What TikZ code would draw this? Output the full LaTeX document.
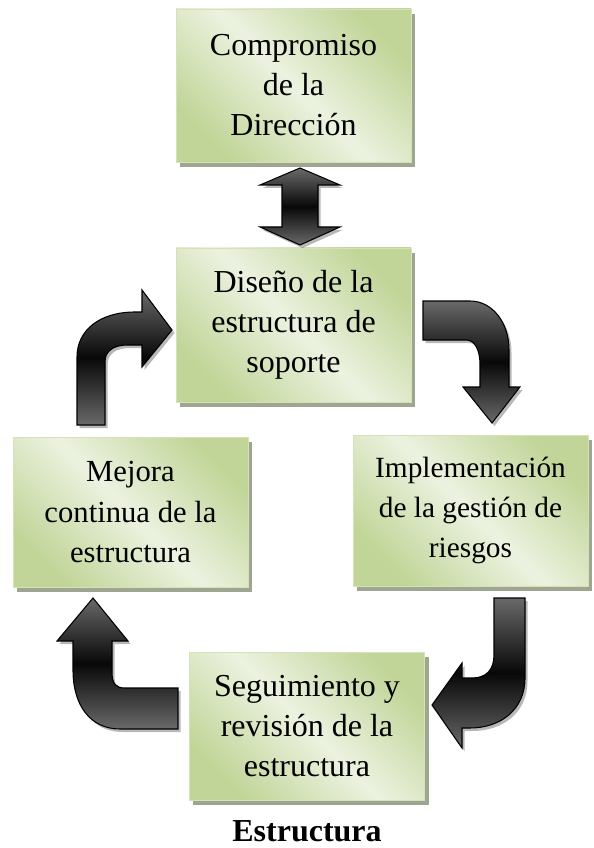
\documentclass[tikz,border=0pt]{standalone}
\usepackage{fontspec}
\setmainfont{Liberation Serif}
\usetikzlibrary{backgrounds}
\definecolor{gdark}{RGB}{193,213,152}
\definecolor{glight}{RGB}{236,242,224}
\definecolor{gedge}{RGB}{212,226,184}
\definecolor{gshadow}{RGB}{158,165,144}
\definecolor{agray}{RGB}{105,105,105}
\definecolor{ablack}{RGB}{8,8,8}
\newcommand\arrowA{(423,301) -- (470,301) .. controls (492,301) and (509,322) .. (509,350) -- (509,387) -- (520,387) -- (492,423) -- (463,387) -- (480,387) -- (480,365) .. controls (480,350) and (475,340) .. (466,340) -- (423,340) -- cycle}
\newcommand\arrowB{(494,598) -- (525,598) -- (525,678) .. controls (525,710) and (500,728) .. (470,728) -- (462,728) -- (462,748) -- (432,705) -- (462,663) -- (462,678) -- (472,678) .. controls (486,678) and (494,670) .. (494,655) -- cycle}
\newcommand\arrowC{(178,688) -- (178,729) -- (120,729) .. controls (90,729) and (73,705) .. (73,670) -- (73,641) -- (57,641) -- (93,598) -- (128,641) -- (112,641) -- (112,672) .. controls (112,684) and (116,688) .. (125,688) -- cycle}
\newcommand\arrowD{(77,425) -- (77,357) .. controls (77,330) and (100,312) .. (135,312) -- (142,312) -- (142,290) -- (172,330) -- (142,367) -- (142,345) -- (128,345) .. controls (112,345) and (105,352) .. (105,362) -- (105,425) -- cycle}
\newcommand\arrowE{(300,168) -- (340,185) -- (318,185) -- (318,227) -- (340,227) -- (300,245) -- (260,227) -- (282,227) -- (282,185) -- (260,185) -- cycle}
\begin{document}
\begin{tikzpicture}[x=0.75pt,y=-0.75pt,
  box/.style={draw=gedge, line width=0.6pt, top color=gdark, bottom color=gdark,
    middle color=glight, shading angle=-45, minimum width=176.25pt,
    align=center, inner sep=0pt, font=\fontsize{24}{30}\selectfont},
  barrow/.style={draw=black, line width=0.8pt, top color=agray, bottom color=agray, middle color=ablack},
  ashadow/.style={fill=black, opacity=0.28, shift={(2.5,3)}},
  capt/.style={font=\fontsize{24}{30}\selectfont\bfseries, inner sep=0pt, anchor=base}]
\useasboundingbox (0,0) rectangle (593,848);
\node[box, minimum height=114.75pt] (b1) at (293.5,85.5) {Compromiso\\de la\\Dirección};
\node[box, minimum height=115.5pt] (b2) at (293.5,325) {Diseño de la\\estructura de\\soporte};
\node[box, minimum height=112.5pt, font=\fontsize{23}{30.5}\selectfont] (b3) at (130.5,512) {Mejora\\continua de la\\estructura};
\node[box, minimum height=113.25pt, font=\fontsize{22}{30}\selectfont] (b4) at (470.5,510.5) {Implementación\\de la gestión de\\riesgos};
\node[box, minimum height=111pt] (b5) at (307,726) {Seguimiento y\\revisión de la\\estructura};
\node[capt] (cap) at (307,841) {Estructura};
\begin{scope}[on background layer]
  \foreach \b in {b1,b2,b3,b4,b5}{
    \fill[gshadow] ([shift={(4,5)}]\b.south west) rectangle ([shift={(4,5)}]\b.north east);
  }
\end{scope}
\fill[ashadow] \arrowA;
\fill[ashadow] \arrowB;
\fill[ashadow] \arrowC;
\fill[ashadow] \arrowD;
\fill[ashadow] \arrowE;
\path[barrow] \arrowA;
\path[barrow] \arrowB;
\path[barrow] \arrowC;
\path[barrow] \arrowD;
\path[barrow] \arrowE;
\end{tikzpicture}
\end{document}
